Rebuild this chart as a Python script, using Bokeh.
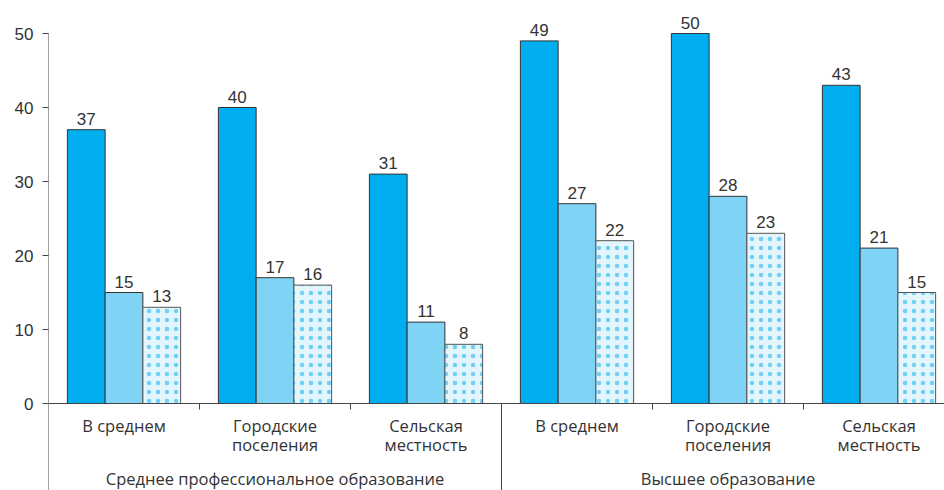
from bokeh.plotting import figure
from bokeh.models import Range1d, FixedTicker, Span
from bokeh.core.properties import value
from bokeh.embed import file_html
from bokeh.resources import INLINE

# ---- data ----
groups = ["Среднее профессиональное образование", "Высшее образование"]
categories = ["В среднем", "Городские\nпоселения", "Сельская\nместность"]
series_a = [37, 40, 31, 49, 50, 43]
series_b = [15, 17, 11, 27, 28, 21]
series_c = [13, 16, 8, 22, 23, 15]
y_ticks = [0, 10, 20, 30, 40, 50]

# ---- layout ----
W, H = 944, 490
LEFT, TOP = 48, 5
FW, FH = W - LEFT, H - TOP
SLOT_PX = 151.0
Y_AXIS_TOP = 50
PX = 7.4                      # pixels per y unit
ZERO_PX = 403                 # page y of the zero line
Y_END = Y_AXIS_TOP + (ZERO_PX - Y_AXIS_TOP * PX - TOP) / PX
Y_MIN = -(H - ZERO_PX) / PX
X_END = FW / SLOT_PX
BAR_W = 0.25

NUM_FONT = value("Liberation Sans")
CAT_FONT = value("Open Sans")
TXT = "#333333"
AX = "#444444"

p = figure(width=W, height=H, output_backend="svg", toolbar_location=None,
           x_range=Range1d(0, X_END), y_range=Range1d(Y_MIN, Y_END),
           min_border_left=LEFT, min_border_top=TOP, min_border_right=0,
           min_border_bottom=0, x_axis_location=None)
p.outline_line_color = None
p.grid.visible = False
p.background_fill_color = "white"

ax = p.yaxis[0]
ax.ticker = FixedTicker(ticks=y_ticks)
ax.major_tick_in = 0
ax.major_tick_out = 6
ax.minor_tick_line_color = None
ax.major_label_standoff = 9
ax.major_label_text_font = "Liberation Sans"
ax.major_label_text_font_size = "17px"
ax.major_label_text_color = TXT
ax.axis_line_color = None
ax.major_tick_line_color = AX

n = len(series_a)
ncat = len(categories)
centers = [i + 0.5 for i in range(n)]

# y axis line from bottom of the chart up to the top tick
p.segment(x0=[0], x1=[0], y0=[Y_MIN], y1=[max(y_ticks)], line_color=AX, line_width=1)

p.vbar(x=[c - BAR_W for c in centers], top=series_a, width=BAR_W,
       fill_color="#00aeef", line_color="#333333", line_width=1)
p.vbar(x=centers, top=series_b, width=BAR_W,
       fill_color="#7fd3f5", line_color="#333333", line_width=1)
p.vbar(x=[c + BAR_W for c in centers], top=series_c, width=BAR_W,
       fill_color="#e3f5fd", line_color="#555555", line_width=1,
       hatch_pattern="dot", hatch_color="#22b8f0", hatch_alpha=0.6,
       hatch_scale=9, hatch_weight=0.5)

# value labels
for off, ser in ((-BAR_W, series_a), (0, series_b), (BAR_W, series_c)):
    p.text(x=[c + off for c in centers], y=[v + 5 / PX for v in ser],
           text=[str(v) for v in ser], text_align="center", text_baseline="bottom",
           text_font=NUM_FONT, text_font_size="17px", text_color=TXT)

# x axis line
p.add_layout(Span(location=0, dimension="width", line_color=AX, line_width=1))

# separators between groups and ticks between categories
sep_x = [g * ncat for g in range(1, len(groups) + 1)]
p.segment(x0=sep_x, x1=sep_x, y0=[0] * len(sep_x), y1=[Y_MIN] * len(sep_x),
          line_color=AX, line_width=1)
tick_x = [i for i in range(1, n) if i % ncat != 0]
p.segment(x0=tick_x, x1=tick_x, y0=[0] * len(tick_x), y1=[-6 / PX] * len(tick_x),
          line_color=AX, line_width=1)

# category labels
l1x, l1t, l2x, l2t = [], [], [], []
for i in range(n):
    parts = categories[i % ncat].split("\n")
    l1x.append(centers[i]); l1t.append(parts[0])
    if len(parts) > 1:
        l2x.append(centers[i]); l2t.append(parts[1])
p.text(x=l1x, y=[-22 / PX] * len(l1x), text=l1t, text_align="center",
       text_baseline="middle", text_font=CAT_FONT, text_font_size="16.5px", text_color=TXT)
p.text(x=l2x, y=[-41 / PX] * len(l2x), text=l2t, text_align="center",
       text_baseline="middle", text_font=CAT_FONT, text_font_size="16.5px", text_color=TXT)

# group labels
gx = [g * ncat + ncat / 2 for g in range(len(groups))]
p.text(x=gx, y=[-75 / PX] * len(gx), text=groups, text_align="center",
       text_baseline="middle", text_font=CAT_FONT, text_font_size="16.5px", text_color=TXT)

open("out.html", "w").write(file_html(p, INLINE))
